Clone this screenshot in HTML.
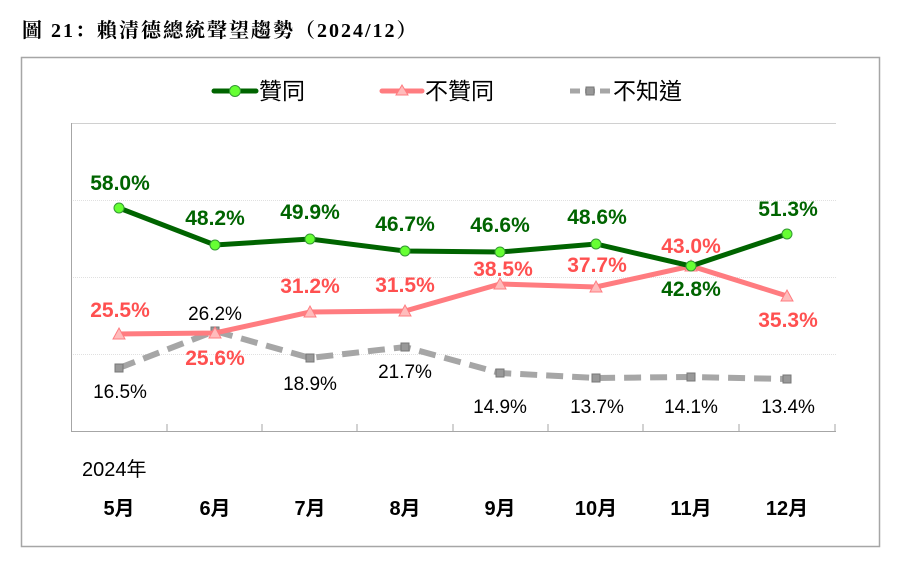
<!DOCTYPE html>
<html><head><meta charset="utf-8"><style>
body{margin:0;background:#fff;width:901px;height:568px;overflow:hidden}
svg text{font-family:"Liberation Sans","Noto Sans CJK TC",sans-serif}
</style></head><body>
<svg width="901" height="568" xmlns="http://www.w3.org/2000/svg">
<text x="22" y="37" font-size="20" font-weight="bold" letter-spacing="2" style="font-family:'Liberation Serif','Noto Serif CJK SC',serif" fill="#000">圖 21：賴清德總統聲望趨勢（2024/12）</text>
<rect x="21.5" y="57.5" width="858" height="489" fill="none" stroke="#a6a6a6" stroke-width="1.5"/>
<line x1="214" y1="91" x2="256" y2="91" stroke="#006400" stroke-width="5" stroke-linecap="round"/>
<circle cx="235" cy="91" r="5.5" fill="#66ff33" stroke="#339933"/>
<text x="259" y="99" font-size="23">贊同</text>
<line x1="382" y1="91" x2="422" y2="91" stroke="#ff7c80" stroke-width="5" stroke-linecap="round"/>
<polygon points="402,85 408,95 396,95" fill="#ffbcbc" stroke="#ff7c80"/>
<text x="425" y="99" font-size="23">不贊同</text>
<line x1="570" y1="91" x2="610" y2="91" stroke="#a6a6a6" stroke-width="5" stroke-dasharray="10,5"/>
<rect x="586" y="87" width="8" height="8" fill="#999" stroke="#777"/>
<text x="613" y="99" font-size="23">不知道</text>
<line x1="71" y1="123.5" x2="836" y2="123.5" stroke="#d0d0d0"/>
<line x1="71" y1="200.5" x2="836" y2="200.5" stroke="#e0e0e0" stroke-dasharray="1,1"/>
<line x1="71" y1="277.5" x2="836" y2="277.5" stroke="#e0e0e0" stroke-dasharray="1,1"/>
<line x1="71" y1="354.5" x2="836" y2="354.5" stroke="#e0e0e0" stroke-dasharray="1,1"/>
<line x1="71.5" y1="123" x2="71.5" y2="432" stroke="#a6a6a6"/>
<line x1="71" y1="431.5" x2="836" y2="431.5" stroke="#a6a6a6"/>
<g stroke="#a6a6a6">
<line x1="167" y1="424" x2="167" y2="432"/><line x1="262" y1="424" x2="262" y2="432"/><line x1="357" y1="424" x2="357" y2="432"/><line x1="453" y1="424" x2="453" y2="432"/><line x1="548" y1="424" x2="548" y2="432"/><line x1="643" y1="424" x2="643" y2="432"/><line x1="739" y1="424" x2="739" y2="432"/><line x1="835" y1="424" x2="835" y2="432"/>
</g>
<polyline points="119,368 215,331 310,358 405,347 500,373 596,378 691,377 787,379" fill="none" stroke="#a6a6a6" stroke-width="6" stroke-dasharray="17,9"/>
<g fill="#999" stroke="#777"><rect x="115" y="364" width="8" height="8"/><rect x="211" y="327" width="8" height="8"/><rect x="306" y="354" width="8" height="8"/><rect x="401" y="343" width="8" height="8"/><rect x="496" y="369" width="8" height="8"/><rect x="592" y="374" width="8" height="8"/><rect x="687" y="373" width="8" height="8"/><rect x="783" y="375" width="8" height="8"/></g>
<polyline points="119,334 215,333 310,312 405,311 500,284 596,287 691,266 787,296" fill="none" stroke="#ff7c80" stroke-width="5"/>
<g fill="#ffbcbc" stroke="#ff7c80"><polygon points="119,328 125,339 113,339"/><polygon points="215,327 221,338 209,338"/><polygon points="310,306 316,317 304,317"/><polygon points="405,305 411,316 399,316"/><polygon points="500,278 506,289 494,289"/><polygon points="596,281 602,292 590,292"/><polygon points="691,260 697,271 685,271"/><polygon points="787,290 793,301 781,301"/></g>
<polyline points="119,208 215,245 310,239 405,251 500,252 596,244 691,266 787,234" fill="none" stroke="#006400" stroke-width="5"/>
<g fill="#66ff33" stroke="#339933"><circle cx="119" cy="208" r="5"/><circle cx="215" cy="245" r="5"/><circle cx="310" cy="239" r="5"/><circle cx="405" cy="251" r="5"/><circle cx="500" cy="252" r="5"/><circle cx="596" cy="244" r="5"/><circle cx="691" cy="266" r="5"/><circle cx="787" cy="234" r="5"/></g>
<g font-size="21" font-weight="bold" fill="#006400" text-anchor="middle">
<text x="120" y="190">58.0%</text><text x="215" y="225">48.2%</text><text x="310" y="219">49.9%</text><text x="405" y="231">46.7%</text><text x="500" y="232">46.6%</text><text x="597" y="224">48.6%</text><text x="691" y="296">42.8%</text><text x="788" y="216">51.3%</text>
</g>
<g font-size="21" font-weight="bold" fill="#ff5050" text-anchor="middle">
<text x="120" y="317">25.5%</text><text x="215" y="365">25.6%</text><text x="310" y="293">31.2%</text><text x="405" y="292">31.5%</text><text x="503" y="276">38.5%</text><text x="597" y="272">37.7%</text><text x="691" y="253">43.0%</text><text x="788" y="327">35.3%</text>
</g>
<g font-size="19" fill="#000" text-anchor="middle">
<text x="120" y="398">16.5%</text><text x="215" y="320">26.2%</text><text x="310" y="390">18.9%</text><text x="405" y="378">21.7%</text><text x="500" y="413">14.9%</text><text x="597" y="413">13.7%</text><text x="691" y="413">14.1%</text><text x="788" y="413">13.4%</text>
</g>
<text x="82" y="476" font-size="20">2024年</text>
<g font-size="20" text-anchor="middle" font-weight="bold">
<text x="119" y="515">5月</text><text x="215" y="515">6月</text><text x="310" y="515">7月</text><text x="405" y="515">8月</text><text x="500" y="515">9月</text><text x="596" y="515">10月</text><text x="691" y="515">11月</text><text x="787" y="515">12月</text>
</g>
</svg>
</body></html>
